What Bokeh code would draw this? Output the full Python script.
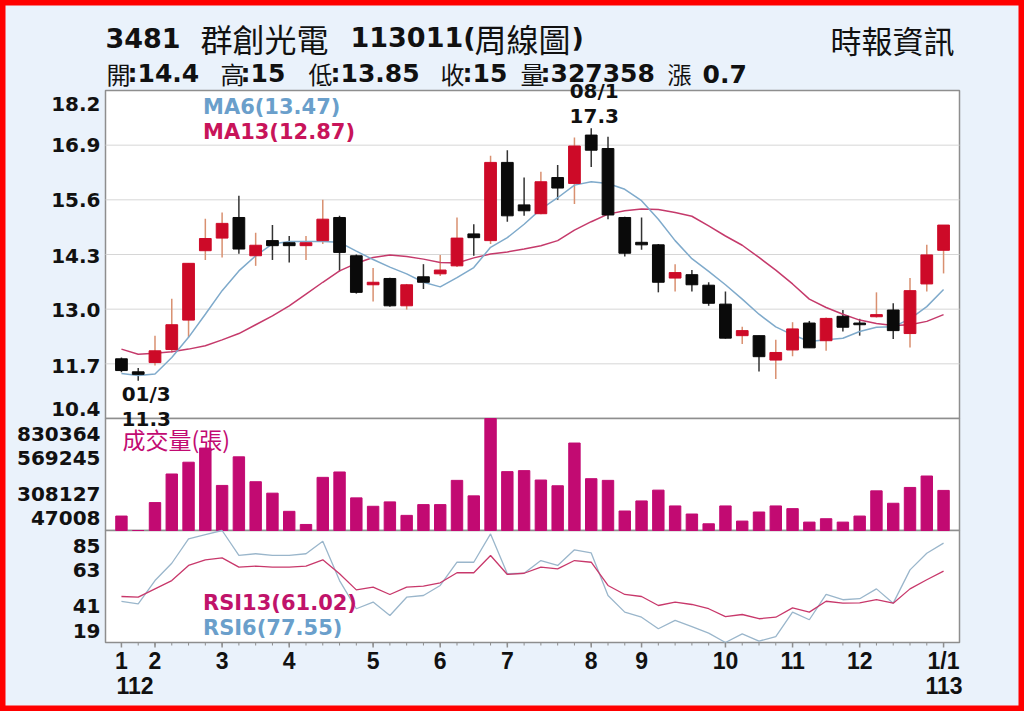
from bokeh.plotting import figure
from bokeh.models import Range1d, Label, Legend, LegendItem
from bokeh.embed import file_html
from bokeh.resources import INLINE

# ---------------- data ----------------
stock_code = "3481"
stock_name = "群創光電"
chart_date = "113011"
chart_kind = "周線圖"
source_name = "時報資訊"
last_open, last_high, last_low, last_close = 14.4, 15, 13.85, 15
last_volume = 327358
last_change = 0.7
high_date = "08/1"
low_date = "01/3"

weeks = list(range(1, 51))
opens = [11.82, 11.51, 11.73, 12.04, 12.74, 14.39, 14.69, 15.18, 14.27, 14.63,
         14.58, 14.51, 14.63, 15.18, 14.27, 13.58, 13.73, 13.08, 13.77, 13.84,
         14.03, 14.79, 14.63, 16.49, 15.48, 15.27, 16.13, 15.99, 17.14, 16.82,
         15.18, 14.59, 14.53, 13.74, 13.82, 13.57, 13.12, 12.37, 12.37, 11.79,
         12.03, 12.67, 12.25, 12.83, 12.67, 12.82, 12.98, 12.42, 13.60, 14.40]
highs = [11.85, 11.60, 12.37, 13.25, 14.10, 15.15, 15.30, 15.70, 14.82, 15.00,
         14.74, 14.74, 15.60, 15.22, 14.30, 13.98, 13.75, 13.60, 14.07, 14.29,
         15.18, 15.02, 16.65, 16.78, 16.13, 16.27, 16.43, 17.08, 17.30, 17.10,
         15.20, 15.18, 14.55, 14.07, 13.93, 13.64, 13.42, 12.58, 12.37, 12.27,
         12.69, 12.72, 12.80, 12.98, 12.77, 13.40, 13.14, 13.74, 14.53, 15.00]
lows = [11.50, 11.30, 11.66, 11.97, 12.33, 14.17, 14.23, 14.32, 14.03, 14.17,
        14.11, 14.17, 14.55, 13.90, 13.37, 13.18, 13.06, 12.99, 13.48, 13.79,
        14.00, 14.27, 14.55, 15.08, 15.22, 15.26, 15.60, 15.50, 16.38, 15.14,
        14.25, 14.41, 13.40, 13.42, 13.42, 13.08, 12.30, 12.17, 11.52, 11.34,
        11.88, 12.08, 12.01, 12.47, 12.37, 12.80, 12.29, 12.09, 13.42, 13.85]
closes = [11.54, 11.45, 12.01, 12.63, 14.09, 14.68, 15.04, 14.43, 14.52, 14.51,
          14.51, 14.58, 15.14, 14.35, 13.40, 13.64, 13.08, 13.58, 13.64, 13.93,
          14.69, 14.70, 16.49, 15.22, 15.34, 16.03, 15.88, 16.88, 16.78, 15.24,
          14.33, 14.53, 13.64, 13.87, 13.58, 13.14, 12.31, 12.49, 11.87, 11.97,
          12.53, 12.08, 12.78, 12.57, 12.63, 12.87, 12.49, 13.44, 14.29, 15.00]
ma6 = [11.47, 11.42, 11.46, 11.85, 12.33, 12.88, 13.44, 13.91, 14.27, 14.55,
       14.61, 14.61, 14.61, 14.59, 14.38, 14.18, 14.00, 13.84, 13.64, 13.53,
       13.75, 13.99, 14.47, 14.70, 15.02, 15.38, 15.65, 15.95, 16.03, 15.99,
       15.85, 15.58, 15.14, 14.63, 14.20, 13.90, 13.58, 13.24, 12.88, 12.58,
       12.39, 12.23, 12.27, 12.31, 12.47, 12.57, 12.58, 12.77, 13.06, 13.47]
ma13 = [12.05, 11.93, 11.95, 11.99, 12.05, 12.13, 12.27, 12.42, 12.63, 12.84,
        13.08, 13.36, 13.64, 13.91, 14.09, 14.23, 14.29, 14.25, 14.19, 14.11,
        14.10, 14.22, 14.31, 14.36, 14.43, 14.51, 14.63, 14.88, 15.08, 15.26,
        15.34, 15.38, 15.37, 15.30, 15.21, 14.98, 14.74, 14.52, 14.23, 13.93,
        13.60, 13.24, 13.04, 12.88, 12.74, 12.66, 12.61, 12.63, 12.71, 12.87]
volume = [148000, 47008, 242300, 442200, 524600, 623400, 362200, 562200, 388100, 308100,
          181100, 89300, 418700, 456300, 275200, 216400, 247000, 152900, 228200, 228200,
          397600, 289300, 830364, 458700, 465700, 399900, 359900, 658700, 409300, 397600,
          183300, 253700, 329300, 218700, 162300, 94000, 218700, 112900, 176400, 218700,
          199900, 105800, 129300, 105800, 148000, 324400, 237500, 348100, 428100, 327358]
rsi6 = [43.2, 41.8, 55.5, 65.7, 80.1, 82.6, 85.0, 70.3, 71.3, 70.3,
        70.3, 71.3, 78.7, 55.5, 38.9, 42.8, 34.9, 45.7, 46.7, 52.6,
        66.3, 66.3, 83.0, 59.5, 59.8, 67.3, 64.4, 73.6, 71.8, 46.7,
        36.9, 33.9, 27.1, 32.0, 28.4, 24.5, 19.0, 24.1, 19.8, 22.5,
        36.9, 32.4, 47.3, 44.2, 44.8, 50.6, 42.2, 61.8, 71.6, 77.55]
rsi13 = [46.1, 45.7, 50.6, 55.5, 64.4, 67.7, 68.9, 63.4, 64.0, 63.4,
         63.4, 64.0, 67.7, 59.5, 50.0, 51.6, 47.3, 51.6, 52.2, 54.2,
         60.1, 60.1, 70.3, 59.1, 59.8, 63.4, 62.4, 67.3, 66.3, 52.6,
         47.3, 46.1, 40.8, 42.8, 41.4, 38.9, 34.3, 35.5, 33.0, 33.9,
         39.4, 36.9, 43.3, 42.2, 42.4, 44.3, 42.2, 50.6, 56.0, 61.02]

price_ticks = [10.4, 11.7, 13.0, 14.3, 15.6, 16.9, 18.2]
price_tick_labels = ["10.4", "11.7", "13.0", "14.3", "15.6", "16.9", "18.2"]
vol_ticks = [47008, 308127, 569245, 830364]
rsi_ticks = [19, 41, 63, 85]
month_pos = [1, 3, 7, 11, 16, 20, 24, 29, 32, 37, 41, 45, 50]
month_labels = ["1", "2", "3", "4", "5", "6", "7", "8", "9", "10", "11", "12", "1/1"]
year_pos = [1, 50]
year_labels = ["112", "113"]

# ---------------- layout (page pixels) ----------------
W, H = 1024, 711
FL, FR = 105, 959                # panel left / right edges
PRICE_TOP, PRICE_BOT = 90, 418
VOL_TOP, VOL_BOT = 418, 530
RSI_TOP, RSI_BOT = 530, 642
X_LO, X_HI = 0.05, 50.95         # week range shown inside the panels

BG = "#EAF2FB"
RED = "#CD0A28"
RED_WICK = "#D99070"
BLACK = "#0A0A0A"
BLACK_WICK = "#333333"
MA6_C = "#7FAACB"
MA13_C = "#C53A6B"
VOL_C = "#C20A72"
RSI6_C = "#9AB6CB"
RSI13_C = "#C8386B"
PANEL_LINE = "#8E8E8E"
GRID_C = "#D6D6D6"
NUMF = "Liberation Sans"
WIDEF = "DejaVu Sans"
CJKF = "Noto Sans CJK TC"

ppx = (FR - FL) / (X_HI - X_LO)
x_range = Range1d(X_LO - FL / ppx, X_HI + (W - FR) / ppx)


def yrange(vmin, vmax, top, bot):
    ppu = (bot - top) / (vmax - vmin)
    return Range1d(vmin - (H - bot) / ppu, vmax + top / ppu), ppu


price_range, price_ppu = yrange(price_ticks[0], price_ticks[-1], PRICE_TOP, PRICE_BOT)
vol_range, vol_ppu = yrange(vol_ticks[0], vol_ticks[-1], VOL_TOP, VOL_BOT)
rsi_range, rsi_ppu = yrange(rsi_ticks[0], rsi_ticks[-1], RSI_TOP, RSI_BOT)

p = figure(width=W, height=H, min_border=0, x_range=x_range, y_range=price_range,
           x_axis_location=None, y_axis_location=None, output_backend="svg",
           toolbar_location=None, background_fill_color=BG, border_fill_color=BG,
           outline_line_color="#FF0000", outline_line_width=10)
p.extra_y_ranges = {"vol": vol_range, "rsi": rsi_range}
p.grid.visible = False

# panels
p.quad(left=[X_LO], right=[X_HI], bottom=[price_ticks[0]], top=[price_ticks[-1]],
       fill_color="white", line_color=PANEL_LINE, line_width=1.5)
p.quad(left=[X_LO], right=[X_HI], bottom=[vol_ticks[0]], top=[vol_ticks[-1]],
       fill_color="white", line_color=PANEL_LINE, line_width=1.5, y_range_name="vol")
p.quad(left=[X_LO], right=[X_HI], bottom=[rsi_ticks[0]], top=[rsi_ticks[-1]],
       fill_color="white", line_color=PANEL_LINE, line_width=1.5, y_range_name="rsi")

# price grid
inner = price_ticks[1:-1]
p.segment(x0=[X_LO] * len(inner), x1=[X_HI] * len(inner), y0=inner, y1=inner,
          line_color=GRID_C, line_width=1)

# candles
body_top = [max(o, c) for o, c in zip(opens, closes)]
body_bot = [min(o, c) for o, c in zip(opens, closes)]
body_col = [RED if c >= o else BLACK for o, c in zip(opens, closes)]
wick_col = [RED_WICK if c >= o else BLACK_WICK for o, c in zip(opens, closes)]
p.segment(x0=weeks, y0=lows, x1=weeks, y1=highs, line_color=wick_col, line_width=1.5)
p.line(weeks, ma13, line_color=MA13_C, line_width=1.5)
p.line(weeks, ma6, line_color=MA6_C, line_width=1.5)
p.vbar(x=weeks, width=0.7, top=body_top, bottom=body_bot, fill_color=body_col, line_color=body_col)

# volume
p.vbar(x=weeks, width=0.68, top=volume, bottom=vol_ticks[0], fill_color=VOL_C,
       line_color=VOL_C, y_range_name="vol")

# RSI
p.line(weeks, rsi6, line_color=RSI6_C, line_width=1.3, y_range_name="rsi")
p.line(weeks, rsi13, line_color=RSI13_C, line_width=1.3, y_range_name="rsi")

# x ticks under RSI panel
p.segment(x0=weeks, x1=weeks, y0=[rsi_ticks[0]] * len(weeks),
          y1=[rsi_ticks[0] - 3 / rsi_ppu] * len(weeks), line_color=PANEL_LINE,
          line_width=1, y_range_name="rsi")
p.segment(x0=month_pos, x1=month_pos, y0=[rsi_ticks[0]] * len(month_pos),
          y1=[rsi_ticks[0] - 5 / rsi_ppu] * len(month_pos), line_color=PANEL_LINE,
          line_width=1.5, y_range_name="rsi")


def lab(x, y, text, dx=0, dy=0, size=22, color="#111111", bold=True, font=WIDEF,
        align="left", yname="default"):
    p.add_layout(Label(x=x, y=y, text=text, x_offset=dx, y_offset=dy, y_range_name=yname,
                       text_font=font, text_font_size=f"{size}px",
                       text_font_style="bold" if bold else "normal",
                       text_color=color, text_align=align, text_baseline="middle"))


def ytick_labels(ticks, labels, offsets, yname):
    for t, s, off in zip(ticks, labels, offsets):
        lab(X_LO, t, s, dx=-5, dy=off, size=20, align="right", yname=yname)


ytick_labels(price_ticks, price_tick_labels, [10, -2, -1, -1, 0, 0, -13], "default")
ytick_labels(vol_ticks, [str(v) for v in vol_ticks], [13, -1, -2, -15], "vol")
ytick_labels(rsi_ticks, [str(v) for v in rsi_ticks], [12, -1, -2, -15], "rsi")

for xp, t in zip(month_pos, month_labels):
    lab(xp, rsi_ticks[0], t, dy=-18, size=23, font=NUMF, align="center", yname="rsi")
for xp, t, dx in zip(year_pos, year_labels, [-5, -18]):
    lab(xp, rsi_ticks[0], t, dx=dx, dy=-43, size=23, font=NUMF, align="left", yname="rsi")

# high / low annotations
hi_i = highs.index(max(highs))
lo_i = lows.index(min(lows))
lab(weeks[hi_i], highs[hi_i], f"{highs[hi_i]:.1f}", dx=3, dy=12, size=20, align="center")
lab(weeks[hi_i], highs[hi_i], high_date, dx=3, dy=37, size=20, align="center")
lab(weeks[lo_i], lows[lo_i], low_date, dx=8, dy=-13, size=20, align="center")
lab(weeks[lo_i], lows[lo_i], f"{lows[lo_i]:.1f}", dx=8, dy=-38, size=20, align="center")

# header
top_y = price_ticks[-1]
line1 = [(stock_code, 0, True, 27), (stock_name, 95, False, 32), (chart_date + "(", 245, True, 27),
         (chart_kind, 369, False, 32), (")", 466, True, 27)]
for t, dx, b, s in line1:
    lab(X_LO, top_y, t, dx=dx, dy=53, size=s, bold=b, font=WIDEF if b else CJKF)

line2 = [("開", 1, False), (f":{last_open:g}", 22, True), ("高", 115, False), (f":{last_high:g}", 135, True),
         ("低", 203, False), (f":{last_low:g}", 225, True), ("收", 335, False), (f":{last_close:g}", 357, True),
         ("量", 415, False), (f":{last_volume}", 435, True), ("漲", 562, False), (f"{last_change:g}", 597, True)]
for t, dx, b in line2:
    lab(X_LO, top_y, t, dx=dx, dy=17, size=25 if b else 24, bold=b, font=WIDEF if b else CJKF)

lab(X_LO, top_y, source_name, dx=725, dy=51, size=31, bold=False, font=CJKF)

lab(X_LO, vol_ticks[-1], "成交量(張)", dx=17, dy=-20, size=23, color=VOL_C, bold=False,
    font=CJKF, yname="vol")

# legends
leg_ma6 = p.line(x=[], y=[], line_color="#BDBDBD", line_width=1.5)
leg_ma13 = p.line(x=[], y=[], line_color="#BDBDBD", line_width=1.5)
leg_r13 = p.line(x=[], y=[], line_color="#DDA0B4", line_width=1.5)
leg_r6 = p.line(x=[], y=[], line_color="#C4C4C4", line_width=1.5)


def add_legend(rend, text, color, loc):
    p.add_layout(Legend(items=[LegendItem(label=text, renderers=[rend])], location=loc,
                        glyph_width=78, glyph_height=20, label_standoff=3, padding=0, margin=0,
                        spacing=0, background_fill_alpha=0, border_line_color=None,
                        label_text_font=WIDEF, label_text_font_style="bold",
                        label_text_font_size="21px", label_text_color=color, label_height=20))


add_legend(leg_ma6, f"MA6({ma6[-1]:.2f})", "#6A9FCB", (122, 592))
add_legend(leg_ma13, f"MA13({ma13[-1]:.2f})", "#C8145A", (122, 567))
add_legend(leg_r13, f"RSI13({rsi13[-1]:.2f})", "#C0136A", (122, 96))
add_legend(leg_r6, f"RSI6({rsi6[-1]:.2f})", "#6A9FCB", (122, 71))

open("out.html", "w").write(file_html(p, INLINE))
